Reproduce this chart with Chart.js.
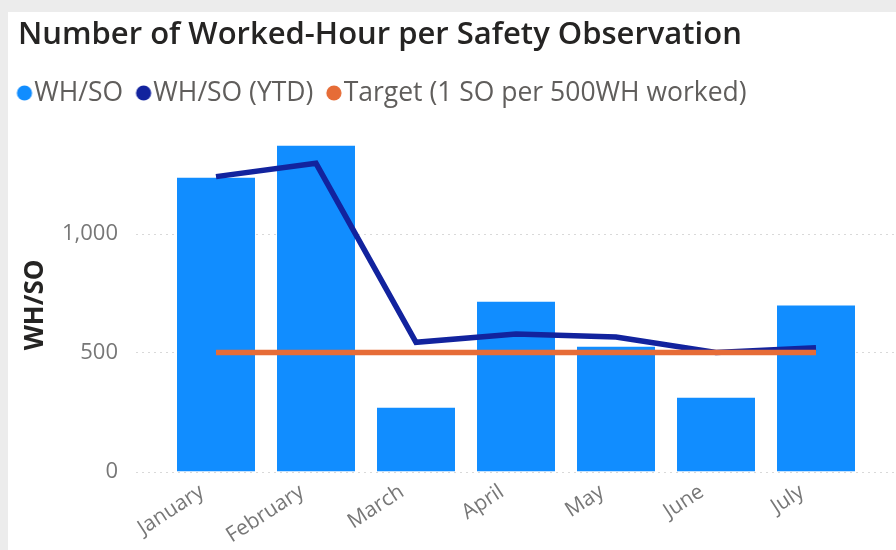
<!DOCTYPE html>
<html>
<head>
<meta charset="utf-8">
<script src="https://cdn.jsdelivr.net/npm/chart.js@4/dist/chart.umd.min.js"></script>
<style>
  html, body { margin: 0; padding: 0; background: #ececec; width: 896px; height: 550px; overflow: hidden; }
  #card { position: absolute; left: 8px; top: 12px; width: 888px; height: 538px; background: #ffffff; }
  canvas { display: block; }
</style>
</head>
<body>
<div id="card"><canvas id="c" width="888" height="538"></canvas></div>
<script>
const months = ['January', 'February', 'March', 'April', 'May', 'June', 'July'];
const whPerSO = [1234, 1369, 268, 713, 524, 310, 697];
const whPerSOYtd = [1239, 1295, 543, 578, 565, 500, 520];
const target = [500, 500, 500, 500, 500, 500, 500];
const yTickValues = [0, 500, 1000];

const COLORS = { bar: '#118DFF', ytd: '#12239E', target: '#E66C37' };

// legend marker: circle drawn right of the image centre so it sits close to its text
function legendDot(color) {
  const c = document.createElement('canvas');
  c.width = 32; c.height = 18;
  const g = c.getContext('2d');
  g.fillStyle = color;
  g.beginPath();
  g.arc(20, 9, 7.6, 0, Math.PI * 2);
  g.fill();
  return c;
}

const dottedGrid = {
  id: 'dottedGrid',
  beforeDatasetsDraw(chart) {
    const ctx = chart.ctx;
    const y = chart.scales.y;
    ctx.save();
    ctx.strokeStyle = '#d9d9d9';
    ctx.lineWidth = 1;
    ctx.setLineDash([2, 4]);
    yTickValues.forEach(v => {
      const py = Math.round(y.getPixelForValue(v)) + 0.5;
      ctx.beginPath();
      ctx.moveTo(chart.chartArea.left - 30, py);
      ctx.lineTo(chart.width, py);
      ctx.stroke();
    });
    ctx.restore();
  }
};

const legendTweak = {
  id: 'legendTweak',
  beforeLayout(chart) {
    const lg = chart.legend;
    if (lg && !lg._tweaked) {
      const orig = lg.fit;
      lg.fit = function () { orig.call(this); this.height = 74.55; };
      lg._tweaked = true;
    }
  },
  afterLayout(chart) {
    const lg = chart.legend;
    if (lg) { lg.left -= 14; lg.right -= 14; }
  }
};

new Chart(document.getElementById('c'), {
  type: 'bar',
  data: {
    labels: months,
    datasets: [
      {
        label: 'WH/SO',
        data: whPerSO,
        backgroundColor: COLORS.bar,
        borderWidth: 0,
        barPercentage: 0.78,
        categoryPercentage: 1.0,
        pointStyle: legendDot(COLORS.bar),
        order: 3
      },
      {
        type: 'line',
        label: 'WH/SO (YTD)',
        data: whPerSOYtd,
        borderColor: COLORS.ytd,
        backgroundColor: COLORS.ytd,
        borderWidth: 5.5,
        pointRadius: 0,
        pointStyle: legendDot(COLORS.ytd),
        tension: 0,
        order: 2
      },
      {
        type: 'line',
        label: 'Target (1 SO per 500WH worked)',
        data: target,
        borderColor: COLORS.target,
        backgroundColor: COLORS.target,
        borderWidth: 5.5,
        pointRadius: 0,
        pointStyle: legendDot(COLORS.target),
        tension: 0,
        order: 1
      }
    ]
  },
  options: {
    responsive: false,
    animation: false,
    layout: { padding: { left: 10, right: 30, top: 0, bottom: 0 } },
    plugins: {
      title: {
        display: true,
        text: 'Number of Worked-Hour per Safety Observation',
        align: 'start',
        color: '#252423',
        font: { family: 'Open Sans', size: 31, weight: '600' },
        padding: { top: 4.5, bottom: 10.05 }
      },
      legend: {
        position: 'top',
        align: 'start',
        labels: {
          usePointStyle: true,
          boxWidth: 1,
          boxHeight: 9,
          padding: 16,
          color: '#605E5C',
          font: { family: 'Open Sans', size: 26.5 },
          sort: (a, b) => a.datasetIndex - b.datasetIndex
        }
      },
      tooltip: { enabled: false }
    },
    scales: {
      x: {
        offset: true,
        grid: { display: false, drawTicks: false },
        border: { display: false },
        ticks: {
          color: '#777777',
          font: { family: 'Open Sans', size: 21 },
          minRotation: 33,
          maxRotation: 33,
          padding: 8,
          labelOffset: -14,
          autoSkip: false
        },
        afterFit(scale) { scale.height = 78.5; }
      },
      y: {
        min: 0,
        max: 1400,
        grid: { display: false, drawTicks: false },
        border: { display: false },
        afterBuildTicks(scale) { scale.ticks = yTickValues.map(v => ({ value: v })); },
        ticks: {
          color: '#777777',
          font: { family: 'Open Sans', size: 22 },
          padding: 48,
          callback: v => v.toLocaleString('en-US')
        },
        title: {
          display: true,
          text: 'WH/SO',
          color: '#252423',
          font: { family: 'Open Sans', size: 26, weight: 'bold' },
          padding: { top: 2, bottom: 0 }
        },
        afterFit(scale) { scale.width = 148; }
      }
    }
  },
  plugins: [dottedGrid, legendTweak]
});
</script>
</body>
</html>
